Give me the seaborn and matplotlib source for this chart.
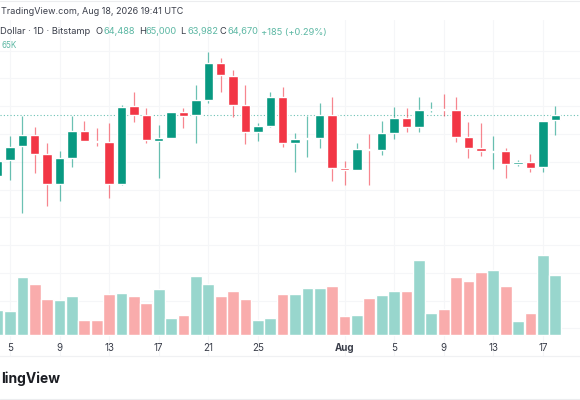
import numpy as np
import pandas as pd
import matplotlib
matplotlib.use("Agg")
import matplotlib.pyplot as plt
import seaborn as sns

days = list(range(4, 50))  # 4..31 = July, 32.. = August
opens = [62488,63052,63556,63976,63280,62188,63148,64096,63760,63724,62188,64996,64696,63748,63868,64792,
         64672,65224,66544,66100,65032,64072,64300,65344,63664,63832,63868,64696,62776,62716,63460,63424,
         64036,64588,64264,64864,64912,64852,63880,63508,63364,63376,62932,62980,62800,64488]
highs = [63304,63928,64660,64264,63664,63400,64648,64468,64228,64384,65056,65524,64924,64312,64804,64924,
         65752,66952,66736,66292,65764,64384,65524,65680,64024,64660,65104,65344,63040,63688,63988,64468,
         64984,64924,65344,65152,65428,65320,64444,64384,63928,63508,63064,63280,64480,65000]
lows = [62344,62344,61168,62584,61408,61588,62824,63760,63568,61696,62164,64444,63664,62428,63844,64216,
        63688,65128,65500,64600,63640,63748,64264,63520,62644,63184,63484,62320,62164,62704,62176,63256,
        63808,64072,64084,64792,64648,63724,63148,63220,62740,62428,62860,62620,62644,63982]
closes = [63040,63544,63976,63292,62188,63148,64096,63760,63712,62200,64972,64684,63772,63868,64780,64660,
          65224,66544,66112,65044,64060,64300,65344,63664,63820,63868,64696,62776,62704,63460,63412,64036,
          64588,64252,64864,64912,64864,63892,63508,63376,63400,62932,62980,62788,64468,64670]
volumes_k = [0.68,0.66,1.60,1.41,0.99,0.96,1.08,0.42,0.42,1.12,1.16,1.08,0.89,1.26,0.46,0.55,
             1.62,1.39,1.07,1.22,1.00,0.41,0.47,1.12,1.12,1.30,1.29,1.35,0.52,0.55,1.01,1.11,
             1.22,1.22,2.08,0.59,0.71,1.59,1.49,1.73,1.79,1.35,0.37,0.61,2.21,1.65]
tick_days = [5, 9, 13, 17, 21, 25, 32, 36, 40, 44, 48]
tick_labels = ["5", "9", "13", "17", "21", "25", "Aug", "5", "9", "13", "17"]
price_ticks = [57000, 58000, 59000, 60000, 61000, 62000, 63000, 64000, 65000, 66000, 67000]
last_close = 64670

GREEN, RED = "#089981", "#F23645"
VGREEN, VRED = "#98D6CD", "#F9ACAC"
GRID = "#F5F6F8"
TXT = "#3A3E4A"
LEG = "#5DB8A4"

sns.set_theme(style="white")
plt.rcParams["font.family"] = ["Inter", "DejaVu Sans"]

df = pd.DataFrame({"day": days, "open": opens, "high": highs, "low": lows,
                   "close": closes, "vol": volumes_k})
df["dir"] = np.where(df["close"] >= df["open"], "up", "down")

fig = plt.figure(figsize=(5.8, 4), dpi=100, facecolor="white")
ax = fig.add_axes([0, 0.11, 1, 0.84])
vax = fig.add_axes([0, 0.11, 1, 0.84], sharex=ax)
vax.patch.set_alpha(0)

sns.barplot(data=df, x="day", y="vol", hue="dir", palette={"up": VGREEN, "down": VRED},
            native_scale=True, dodge=False, width=0.95, saturation=1, legend=False, ax=vax)
vax.set_ylim(-0.589, 8.705)
vax.set_xlabel(""); vax.set_ylabel("")
vax.set_yticks([])

colors = df["dir"].map({"up": GREEN, "down": RED})
ax.vlines(df["day"], df["low"], df["high"], colors=colors, linewidth=0.9, alpha=0.6, zorder=2)
ax.bar(df["day"], (df["close"] - df["open"]).abs().clip(lower=36),
       bottom=df[["open", "close"]].min(axis=1), width=0.76, color=colors, zorder=3)
ax.axhline(last_close, color=GREEN, linestyle=(0, (1, 2)), linewidth=0.8, alpha=0.6, zorder=1)

ax.set_ylim(56008, 68104)
ax.set_yticks(price_ticks)
ax.set_yticklabels([])
ax.grid(True, color=GRID, linewidth=0.8)
ax.set_axisbelow(True)
ax.tick_params(left=False, bottom=False, labelbottom=False)
ax.set_xlabel(""); ax.set_ylabel("")

vax.set_xlim(4.193, 51.0)
vax.set_xticks(tick_days)
vax.set_xticklabels(tick_labels)
vax.tick_params(axis="x", length=0, pad=-9.5, labelsize=7, labelcolor=TXT, bottom=False)
for lab in vax.get_xticklabels():
    if lab.get_text() == "Aug":
        lab.set_fontweight("bold")

for a in (ax, vax):
    for s in ("top", "left", "right"):
        a.spines[s].set_visible(False)
    a.spines["bottom"].set_color("#F0F1F3")
    a.spines["bottom"].set_linewidth(0.8)

def px(x, y):
    return x / 580, 1 - y / 400

fig.text(*px(1, 12), "TradingView.com, Aug 18, 2026 19:41 UTC", ha="left", va="center", fontsize=6.5, color=TXT)
fig.text(*px(90, 32), "Dollar · 1D · Bitstamp", ha="right", va="center", fontsize=6.7, color=TXT)
for x, s, c in [(96, "O", TXT), (103, "64,488", LEG), (139, "H", TXT), (146, "65,000", LEG),
                (180, "L", TXT), (187, "63,982", LEG), (220, "C", TXT), (227, "64,670", LEG),
                (261, "+185 (+0.29%)", LEG)]:
    fig.text(*px(x, 32), s, ha="left", va="center", fontsize=6.7, color=c)
fig.text(*px(1, 45), "65K", ha="left", va="center", fontsize=5.8, color=LEG)
fig.text(*px(1, 379), "lingView", ha="left", va="center", fontsize=10, fontweight="bold", color="#1A1C22")

fig.add_artist(plt.Line2D([0, 1], [1 - 0.5 / 400] * 2, color="#ECEDEF", linewidth=0.8))
fig.add_artist(plt.Line2D([0, 1], [1 - 399 / 400] * 2, color="#ECEDEF", linewidth=0.8))

fig.savefig("out.png", dpi=100, facecolor="white")
